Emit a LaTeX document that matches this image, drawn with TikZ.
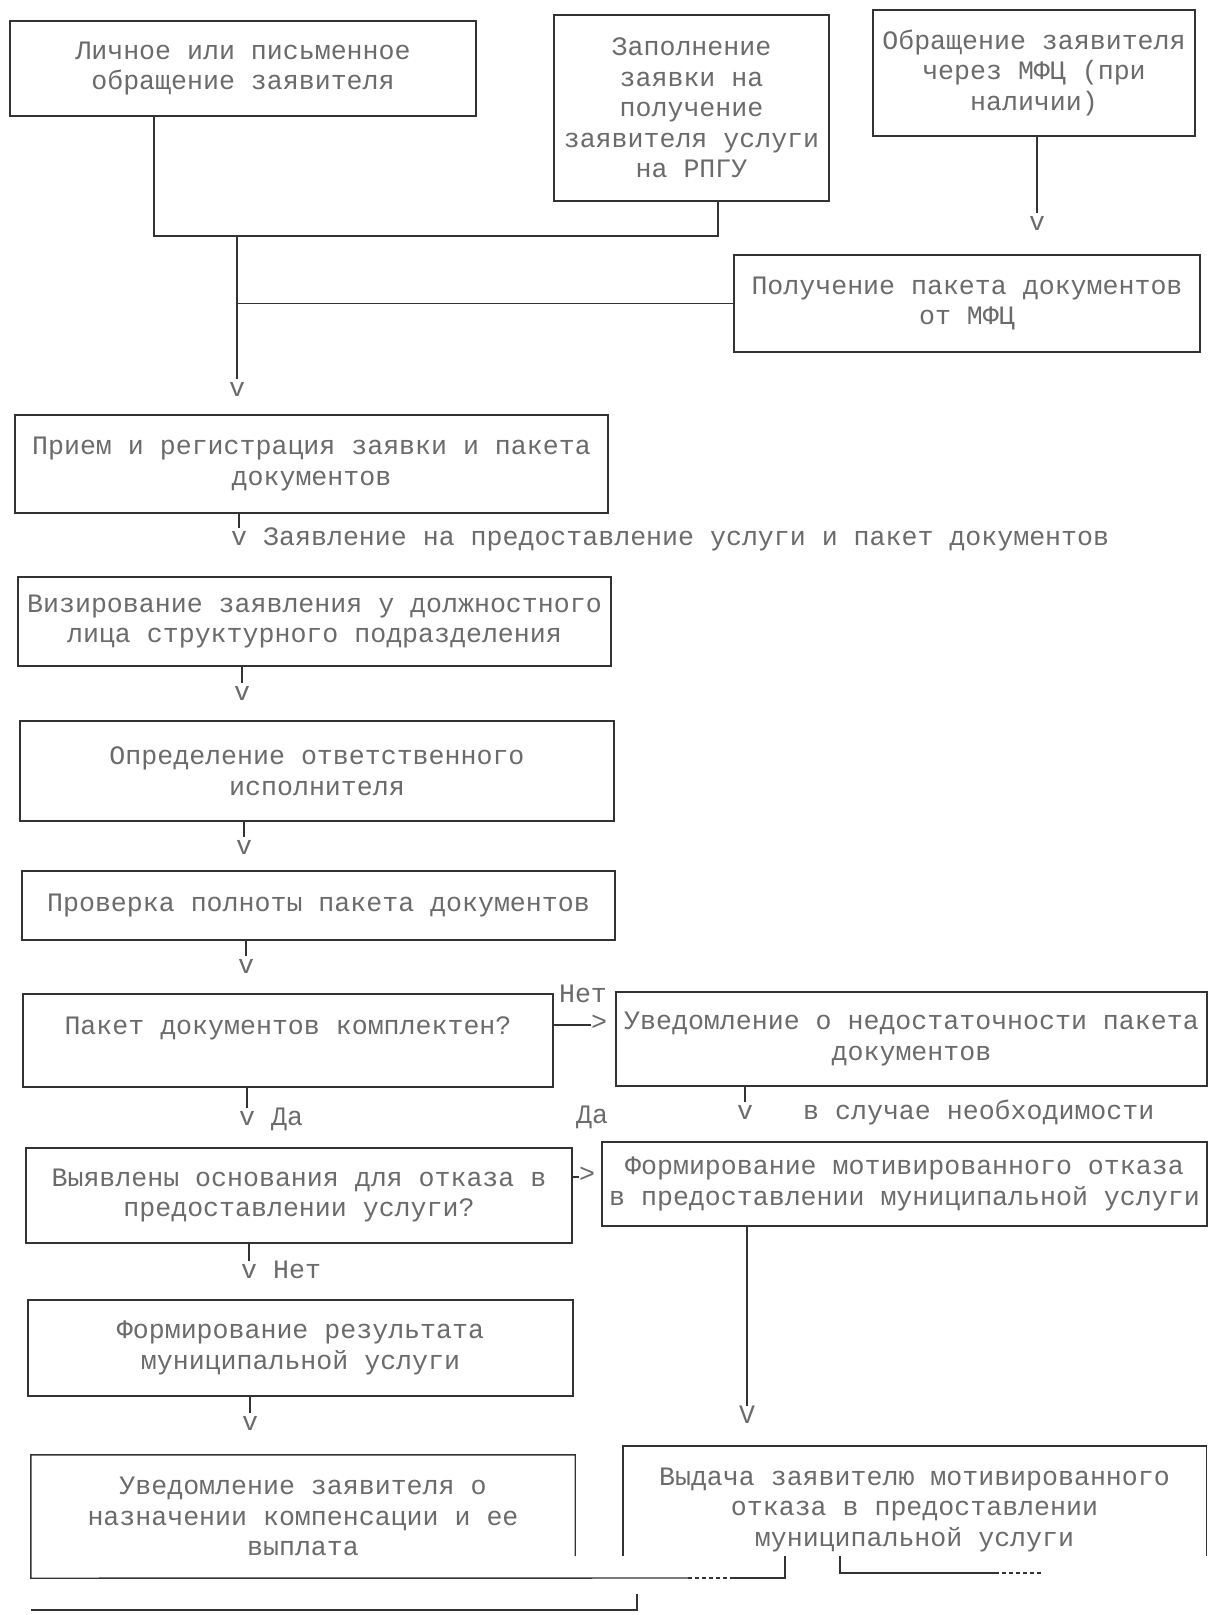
\documentclass[tikz,border=0pt]{standalone}
\usepackage{fontspec}
\setmainfont{Liberation Mono}
\usepackage{tikz}

\begin{document}
\begin{tikzpicture}[x=1pt,y=-1pt]
            \tikzstyle{every node}=[font=\fontsize{26.6}{30.5}\selectfont,text=black!58,inner sep=0pt];
            \tikzstyle{box}=[draw=black!80,line width=1.4pt,align=center];
            \tikzstyle{openbox}=[align=center];
            \tikzstyle{vmark}=[text height=11pt,text depth=0pt,outer ysep=7pt];
            \tikzstyle{lbl}=[text height=11pt,text depth=0pt];
            \tikzstyle{conn}=[draw=black!80,line width=1.4pt];
            \fill[white] (0,0) rectangle (1209,1615);
            \useasboundingbox (0,0) rectangle (1209,1615);
            % boxes
            \node[box,minimum width=466pt,minimum height=95pt] (b1) at (243,68.5) {Личное или письменное\\обращение заявителя};
            \node[box,minimum width=275pt,minimum height=186pt] (b2) at (691.5,108) {Заполнение\\заявки на\\получение\\заявителя услуги\\на РПГУ};
            \node[box,minimum width=322pt,minimum height=126pt] (b3) at (1034,73) {Обращение заявителя\\через МФЦ (при\\наличии)};
            \node[box,minimum width=466pt,minimum height=97pt] (b4) at (967,303.5) {Получение пакета документов\\от МФЦ};
            \node[box,minimum width=593pt,minimum height=98pt] (b5) at (311.5,464) {Прием и регистрация заявки и пакета\\документов};
            \node[box,minimum width=593pt,minimum height=89pt] (b6) at (314.5,621.5) {Визирование заявления у должностного\\лица структурного подразделения};
            \node[box,minimum width=594pt,minimum height=100pt] (b7) at (317,771) {Определение ответственного\\исполнителя};
            \node[box,minimum width=593pt,minimum height=69pt] (b8) at (318.5,905.5) {Проверка полноты пакета документов};
            \node[box,minimum width=530pt,minimum height=93pt] (b9) at (288,1040.5) {Пакет документов комплектен?\\\mbox{}};
            \node[box,minimum width=591pt,minimum height=94pt] (b10) at (911.5,1039) {Уведомление о недостаточности пакета\\документов};
            \node[box,minimum width=546pt,minimum height=95pt] (b11) at (299,1195.5) {Выявлены основания для отказа в\\предоставлении услуги?};
            \node[box,minimum width=605pt,minimum height=84pt] (b12) at (904.5,1184) {Формирование мотивированного отказа\\в предоставлении муниципальной услуги};
            \node[box,minimum width=545pt,minimum height=96pt] (b13) at (300.5,1348) {Формирование результата\\муниципальной услуги};
            \node[openbox,minimum width=544pt,minimum height=123pt] (b14) at (303,1516.5) {Уведомление заявителя о\\назначении компенсации и ее\\выплата};
            \node[openbox,minimum width=583pt,minimum height=127pt] (b15) at (914.5,1509.5) {Выдача заявителю мотивированного\\отказа в предоставлении\\муниципальной услуги};
            % arrow marks and labels
            \node[vmark] (v1) at (237,391) {v};
            \node[vmark] (v0) at (1037,225) {v};
            \node[vmark] (v2) at (239,540) {v};
            \node[lbl,anchor=west] (t1) at (263,540) {Заявление на предоставление услуги и пакет документов};
            \node[vmark] (v3) at (242,695) {v};
            \node[vmark] (v4) at (244,849) {v};
            \node[vmark] (v5) at (246,968) {v};
            \node[vmark] (v6) at (247,1120) {v};
            \node[lbl,anchor=west] (t2) at (271,1120) {Да};
            \node[lbl] (t3) at (583,997) {Нет};
            \node[lbl] (g1) at (599,1025) {>};
            \node[lbl] (t4) at (592,1118) {Да};
            \node[vmark] (v7) at (745,1114) {v};
            \node[lbl,anchor=west] (t5) at (803,1114) {в случае необходимости};
            \node[lbl] (g2) at (587,1177) {>};
            \node[vmark] (v8) at (747,1418) {V};
            \node[vmark] (v9) at (249,1273) {v};
            \node[lbl,anchor=west] (t6) at (273,1273) {Нет};
            \node[vmark] (v10) at (250,1425) {v};
            % junctions and free ends
            \coordinate (c1) at (154,236);
            \coordinate (c2) at (718,236);
            \coordinate (c3) at (237,236);
            \coordinate (c5) at (688,1578);
            \coordinate (c6) at (732,1578);
            \coordinate (c7) at (785,1578);
            \coordinate (c8) at (785,1556);
            \coordinate (c9) at (840,1556);
            \coordinate (c10) at (840,1573);
            \coordinate (c11) at (995,1573);
            \coordinate (c12) at (1043,1573);
            \coordinate (c13) at (31,1610);
            \coordinate (c14) at (637,1610);
            \coordinate (c15) at (637,1594);
            % connectors
            \path[conn] (b1.south -| c1) -- (c1) -- (c2) -- (b2.south -| c2);
            \path[conn] (c3) -- (v1.north);
            \path[conn] (b4.west) -- (b4.west -| c3);
            \path[conn] (b3.south -| v0) -- (v0.north);
            \path[conn] (b5.south -| v2) -- (v2.north);
            \path[conn] (b6.south -| v3) -- (v3.north);
            \path[conn] (b7.south -| v4) -- (v4.north);
            \path[conn] (b8.south -| v5) -- (v5.north);
            \path[conn] (b9.south -| v6) -- (v6.north);
            \path[conn] (b9.east |- g1) -- (g1.west);
            \path[conn] (b10.south -| v7) -- (v7.north);
            \path[conn] (b11.east |- g2) -- (g2.west);
            \path[conn] (b12.south -| v8) -- (v8.north);
            \path[conn] (b11.south -| v9) -- (v9.north);
            \path[conn] (b13.south -| v10) -- (v10.north);
            % open frames at the bottom
            \path[conn] ([yshift=22pt]b14.south east) -- (b14.north east) -- (b14.north west) -- (b14.south west) -- (c5);
            \path[conn,dash pattern=on 4pt off 3pt] (c5) -- (c6);
            \path[conn] (c6) -- (c7) -- (c8);
            \path[conn] ([yshift=17pt]b15.south west) -- (b15.north west) -- (b15.north east) -- ([yshift=17pt]b15.south east);
            \path[conn] (c9) -- (c10) -- (c11);
            \path[conn,dash pattern=on 4pt off 3pt] (c11) -- (c12);
            \path[conn] (c13) -- (c14) -- (c15);
        \end{tikzpicture}
\end{document}
